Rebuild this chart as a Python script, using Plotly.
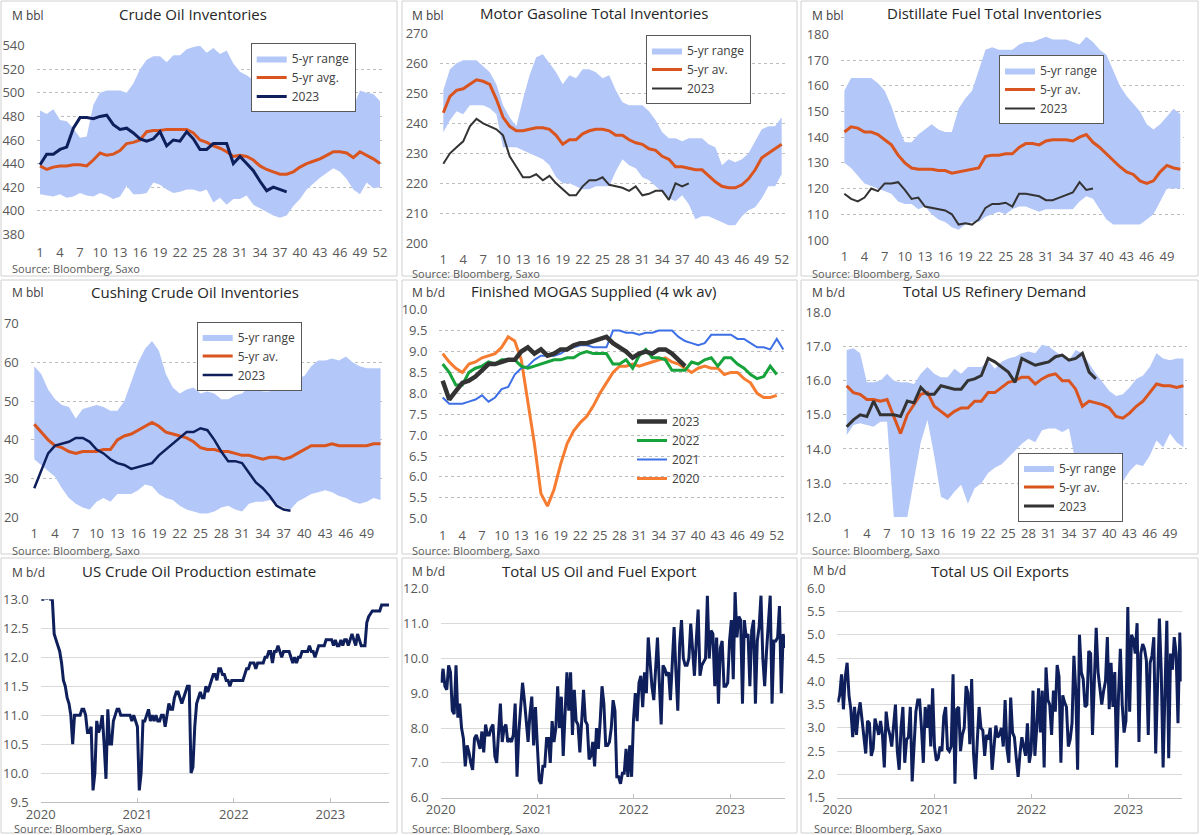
import plotly.graph_objects as go
import pandas as pd

W, H = 1200, 835

# ---------------- DATA ----------------
weeks52 = list(range(1, 53))
weeks51 = list(range(1, 52))
weeks53 = list(range(1, 54))
weeks_2023 = list(range(1, 39))

crude_upper = [485,482,486,477,476,470,462,463,490,500, 502,502,502,500,508,520,528,531,531,526,
               532,532,537,539,540,534,538,533,536,525, 518,515,511,506,502,497,495,494,493,492,
               490,489,489,493,485,488,489,488,502,500, 499,493]
crude_lower = [414,413,412,414,411,412,415,413,412,415, 413,410,412,421,414,414,415,424,422,418,
               415,416,418,418,416,418,407,411,405,410, 410,413,405,402,399,396,394,396,404,410,
               418,423,428,432,436,433,427,418,414,424, 419,420]
crude_avg = [438,435,437,438,438,439,439,438,443,449, 447,448,451,457,458,460,467,468,468,469,
             469,469,469,466,460,458,455,453,450,446, 447,446,443,438,435,433,431,431,433,437,
             440,442,444,447,450,450,449,445,450,447, 444,440]
crude_2023 = [439,448,448,452,454,470,479,479,478,480, 481,473,469,470,466,461,459,461,467,455,
              460,459,467,461,452,452,457,457,457,440, 446,440,434,425,417,420,418,416]

gas_upper = [251,258,260,261,261,261,259,257,253,246, 242,239,248,256,262,263,260,257,253,256,
             255,258,258,257,255,256,251,247,246,246, 246,244,241,237,235,235,234,235,235,235,
             233,232,226,228,227,228,230,234,238,239, 239,242]
gas_lower = [237,241,244,243,246,246,246,245,243,232, 232,232,231,230,229,228,226,222,220,220,
             219,218,218,219,219,219,224,228,226,225, 222,221,219,217,215,214,216,213,208,209,
             209,208,207,206,206,209,211,212,215,219, 219,223]
gas_avg = [243.5,249,251,251.5,253,254.5,254,253,248,242, 239,237.5,237.5,238,238.5,238.5,238,236,233,234.5,
           234.5,236.5,237.5,238,238,237.5,236,236,234.5,233.5, 233,231.5,231,229,228,225.5,225.5,225,224.5,224.5,
           222.5,220.5,219,218.5,218.5,219.5,221.5,224.5,228.5,230, 231.5,233]
gas_2023 = [226.5,230,232,234,239,241.5,240,239,238,236, 229,225.5,222,222,223,221,222.5,220,218,216,
            216,219,221,221,222,219.5,219,218.5,217.5,219, 216,216.5,217.5,217.5,214.5,220,219,220]

dist_upper = [158,163,163,163,163,161,158,152,144,138, 138,141,143,145,143,142,142,151,155,158,
              166,174,175,174,174,174,176,177,177,178, 179,178,178,178,177,176,179,177,174,172,
              166,160,156,153,150,145,143,145,148,151, 149]
dist_lower = [130,128,125,122,121,120,119,118,115,114, 114,112,113,110,108,107,105,104,106,107,
              107,109,110,111,110,112,113,113,112,111, 112,112,112,112,112,115,117,116,112,108,
              106,106,106,106,106,108,110,115,120,120, 120]
dist_avg = [142,144,143.5,142,142,141,139,137,133,130, 128,127.5,127.5,127.5,127,127,126,126.5,127,127.5,
            128,132.5,133,133,133.5,133.5,136,137.5,137.5,137, 138.5,139,139,139,138.5,140,141,138,136,133.5,
            131,128.5,126.5,125.5,123,122,123,126.5,129,128, 127.5]
dist_2023 = [118,116,115,116.5,120,119,122,122,122.5,119.5, 116,116.5,113,112.5,112,111.5,110,106,106.5,106,
             108,112.5,114,114,114.5,113,118,118,117.5,117, 115.5,115.5,116.5,117.5,118.5,122.5,119.5,120]

cush_upper = [59,57,53,50.5,49,48.5,45.5,48,48.5,49, 48.5,47.5,47.5,50,55,60,63.5,65.5,63,57,
              53.5,52,53,53.5,52,52.5,52,50.5,50.5,51.5, 52,53.5,53,52.5,52.5,54.5,54.5,54.5,56,56.5,
              59,60.5,60.5,61,60.5,61.5,60,59,58.5,58.5, 58.5]
cush_lower = [35,33.5,32,30.5,27.5,25,23.5,22.5,22,24, 25,24,26,26,26,27,28.5,28,26,25,
              24.5,23,22,21.5,21,21,21.5,22.5,23,22, 21.5,23.5,24,24,24.5,23.5,22.5,22,24,25,
              26,26.5,27,26.5,25.5,25,24,23.5,24,25, 24.5]
cush_avg = [44,42,40,38.5,38,37,36.5,37,37,37, 37.5,37.5,40,41,41.5,42.5,43.5,44.5,43.5,42,
            41.5,41,40.5,39.5,38,37.5,37.5,37,37,36.5, 36,36,35.5,35,35.5,35.5,35,35.5,36.5,37.5,
            38.5,38.5,38.5,39,38.5,38.5,38.5,38.5,38.5,39, 39]
cush_2023 = [27.5,32,36.5,38.5,39,39.5,40.5,40.5,39.5,37.5, 36.5,35,34,33.5,32.5,33,33.5,34,36,37.5,
             39,40.5,42,42,43,42.5,40,37,34.5,34.5, 34,31.5,29,27.5,25.5,23,22,21.7]

mogas_2023 = [8.3,7.85,8.05,8.25,8.3,8.4,8.55,8.7,8.7,8.75, 8.8,8.8,9.0,9.1,8.95,9.05,8.9,8.95,9.05,9.05,
              9.15,9.2,9.2,9.25,9.3,9.35,9.2,9.1,9.0,8.85, 8.95,9.0,8.95,9.05,9.05,8.95,8.8,8.65]
mogas_2022 = [8.7,8.5,8.2,8.2,8.5,8.6,8.65,8.75,8.7,8.8, 8.8,8.8,8.65,8.6,8.65,8.7,8.75,8.8,8.8,8.85,
              8.85,8.95,9.0,8.95,8.95,8.95,8.7,8.7,8.8,8.6, 8.9,9.05,8.85,8.85,8.8,8.55,8.55,8.55,8.75,8.7,
              8.8,8.85,8.65,8.85,8.85,8.7,8.6,8.45,8.35,8.4, 8.65,8.45]
mogas_2021 = [7.9,7.75,7.75,7.75,7.8,7.85,7.95,7.8,7.9,8.1, 8.15,8.45,8.6,8.65,8.8,8.9,8.9,8.9,8.95,9.05,
              9.1,9.15,9.15,9.1,9.1,9.1,9.5,9.5,9.45,9.45, 9.4,9.45,9.45,9.5,9.5,9.5,9.35,9.25,9.2,9.15,
              9.2,9.4,9.4,9.4,9.4,9.3,9.3,9.2,9.1,9.1, 9.05,9.3,9.05]
mogas_2020 = [8.95,8.75,8.6,8.5,8.7,8.75,8.85,8.9,8.95,9.1, 9.35,9.25,8.8,7.8,6.8,5.6,5.3,5.7,6.3,6.8,
              7.1,7.3,7.45,7.7,8.0,8.25,8.5,8.65,8.65,8.7, 8.65,8.7,8.75,8.8,8.85,8.75,8.7,8.6,8.5,8.6,
              8.65,8.6,8.6,8.45,8.5,8.5,8.35,8.25,8.0,7.9, 7.9,7.95]

ref_upper = [16.9,16.95,16.8,15.95,15.95,16.0,16.2,16.0,15.95,15.95, 15.9,16.2,16.4,16.2,16.1,16.1,16.35,16.2,16.4,16.4,
             16.4,16.6,16.35,16.55,16.65,16.7,16.8,16.85,16.8,17.05, 17.0,16.85,16.7,16.6,16.9,16.8,16.5,16.2,15.95,15.7,
             15.55,15.6,15.8,16.05,16.15,16.4,16.8,16.65,16.6,16.65, 16.65]
ref_lower = [14.4,14.7,14.75,14.7,14.65,14.8,14.8,12.0,12.0,12.0, 13.1,14.2,14.85,13.8,12.6,12.5,12.75,12.95,12.4,12.85,
             13.0,13.3,13.45,13.55,13.75,13.95,14.15,14.3,14.2,14.55, 14.6,14.6,14.5,14.6,13.6,13.8,13.8,13.8,13.75,13.8,
             13.9,13.05,13.35,13.55,13.5,13.8,14.25,14.05,14.45,14.2, 14.05]
ref_avg = [15.85,15.65,15.6,15.45,15.45,15.4,15.45,14.95,14.45,15.0, 15.3,15.6,15.65,15.25,15.1,14.95,15.1,15.2,15.2,15.4,
           15.4,15.65,15.65,15.8,15.95,16.0,16.1,16.1,15.9,16.05, 16.15,16.2,16.0,16.0,15.75,15.25,15.4,15.35,15.3,15.2,
           14.95,14.9,15.05,15.25,15.4,15.65,15.9,15.85,15.85,15.8, 15.85]
ref_2023 = [14.65,14.85,15.0,14.95,15.4,15.0,15.0,15.0,14.95,15.4, 15.35,15.8,15.6,15.6,15.85,15.8,15.75,15.75,16.0,16.05,
            16.15,16.65,16.55,16.4,16.25,15.95,16.65,16.55,16.45,16.5, 16.55,16.7,16.75,16.6,16.65,16.8,16.25,16.05]

prod_2020 = [13.0,13.0,13.1,13.0,13.1,13.0,13.0,12.4,12.3,12.2, 12.1,11.9,11.6,11.5,11.3,11.2,11.0,10.5,11.0,11.0,
             11.0,11.0,11.1,11.1,11.0,10.7,10.7,10.8,9.7,10.0, 10.9,10.7,10.8,11.0,10.5,9.9,11.1,10.5,10.5,10.9,
             11.0,11.1,11.1,11.0,11.0,11.0,11.0,11.0,11.0,10.9, 11.0,10.9]
prod_2021 = [10.8,9.7,10.0,10.9,10.9,11.0,11.1,10.9,11.0,10.9, 11.0,10.9,10.9,11.0,11.0,10.8,11.0,11.2,11.1,11.1,
             11.3,11.4,11.4,11.3,11.2,11.3,11.4,11.5,11.5,10.0, 10.1,10.8,11.2,11.3,11.4,11.3,11.3,11.5,11.4,11.5,
             11.6,11.7,11.7,11.6,11.8,11.8,11.7,11.7,11.6,11.6, 11.5,11.6]
prod_2022 = [11.6,11.6,11.6,11.6,11.6,11.6,11.7,11.8,11.8,11.9, 11.9,11.9,11.8,11.9,11.9,11.9,11.9,12.0,12.0,12.1,
             12.1,11.9,12.1,12.1,12.2,12.1,12.0,12.1,12.1,12.1, 12.1,12.0,11.9,12.0,11.9,12.0,12.0,12.1,12.1,12.1,
             12.1,12.2,12.1,12.1,12.0,12.1,12.2,12.2,12.2,12.2, 12.3,12.3]
prod_2023 = [12.3,12.3,12.2,12.3,12.2,12.2,12.3,12.2,12.3,12.3, 12.2,12.3,12.4,12.3,12.2,12.4,12.3,12.2,12.2,12.2,
             12.6,12.7,12.75,12.8,12.8,12.8,12.8,12.8,12.9,12.9, 12.9,12.9,12.9]

exp_2020 = [9.3,9.7,9.2,9.1,9.8,9.6,8.5,8.4,9.8,8.3, 8.7,8.0,7.7,6.9,7.5,7.3,7.0,6.8,7.7,7.8,
            7.6,7.4,7.9,7.3,8.1,7.8,7.8,8.0,8.1,7.2, 7.0,8.0,8.7,7.6,8.0,8.1,7.6,7.7,7.6,7.8,
            8.7,6.6,7.9,8.6,9.3,8.8,8.3,7.6,8.4,8.9, 7.5,8.6]
exp_2021 = [7.5,6.5,6.4,6.9,6.9,7.7,7.7,7.0,8.2,7.6, 8.0,9.2,8.0,8.9,7.2,8.6,9.6,8.5,9.6,7.8,
            9.1,8.2,8.1,7.3,8.3,9.1,8.2,8.1,7.1,7.2, 7.6,6.9,8.0,7.4,8.2,9.2,8.7,7.5,7.5,7.6,
            8.0,8.8,8.5,6.6,6.6,6.4,6.7,6.7,7.4,6.6, 7.5,6.6]
exp_2022 = [8.2,9.0,8.2,9.3,9.5,8.6,9.6,9.0,10.6,9.8, 9.2,8.8,9.6,10.6,9.3,8.1,9.8,9.7,9.5,9.6,
            8.8,9.7,10.9,9.6,8.5,10.4,11.1,10.0,9.8,9.8, 10.0,11.0,10.3,9.5,10.5,11.4,9.5,9.8,9.9,10.0,
            11.8,10.0,10.8,10.7,9.2,10.6,8.7,10.3,10.5,9.2, 9.2,9.3]
exp_2023 = [10.5,11.1,9.4,11.9,10.6,11.2,11.1,8.7,11.1,10.6, 10.7,9.2,10.8,11.1,8.7,10.5,10.9,11.8,10.0,9.2,
            10.2,11.0,11.8,8.7,10.5,10.5,10.6,11.5,9.0,10.7, 10.3]

oil_2020 = [3.55,3.7,4.15,3.4,4.1,4.4,3.7,3.4,2.8,3.45, 2.85,3.3,3.55,3.2,2.8,2.45,3.15,3.1,2.4,2.55,
            3.2,3.0,2.85,3.15,2.85,2.15,3.35,3.0,2.85,2.6, 3.0,3.5,2.5,2.1,3.0,3.45,2.25,2.75,2.8,3.45,
            1.85,2.7,3.35,3.6,3.6,3.0,2.25,3.45,3.0,3.5, 2.6,3.85]
oil_2021 = [2.6,2.3,2.35,2.6,2.5,3.25,3.45,2.55,2.5, 2.6,4.15,1.8,3.4,3.45,2.5,2.85,3.0,3.9,3.75,
            2.65,4.05,2.45,1.9,2.7,3.45,3.0,2.95, 2.4,2.85,2.75,3.0,2.1,2.65,3.05,2.8,2.85,3.0,
            2.6,3.6,2.55,2.25,3.65,2.9,2.8,2.35, 1.95,2.45,2.8,2.6,2.4,3.1,2.25]
oil_2022 = [2.5,3.8,2.4,3.0,3.85,2.9,3.8,2.15,4.3,3.6, 3.5,2.85,3.8,3.35,4.35,4.1,2.25,3.7,3.55,
            3.45,2.6,2.75,3.1,4.55,3.8,2.1,5.0,4.2,4.05, 3.45,3.5,4.65,4.6,2.85,4.0,5.15,4.2,3.8,
            3.5,3.8,4.0,4.95,3.4,4.4,3.45,4.2,2.15, 3.7,4.7,3.5,2.9,3.15]
oil_2023 = [5.6,3.35,5.0,4.9,4.6,5.25,2.7,4.6,4.8,4.7, 4.45,2.85,4.4,4.55,4.95,2.45,3.95,5.35,4.2,2.15,
            3.8,5.3,2.35,4.6,4.25,4.95,4.6,3.1,5.05,4.0]

prod_vals = prod_2020 + prod_2021 + prod_2022 + prod_2023
exp_vals = exp_2020 + exp_2021 + exp_2022 + exp_2023
oil_vals = oil_2020 + oil_2021 + oil_2022 + oil_2023
prod_dates = pd.date_range("2020-01-03", periods=len(prod_vals), freq="7D")
exp_dates = pd.date_range("2020-01-03", periods=len(exp_vals), freq="7D")
oil_dates = pd.date_range("2020-01-03", periods=len(oil_vals), freq="7D")

# ---------------- STYLE ----------------
BAND = "#b4c7f9"
ORANGE = "#d9541e"
NAVY = "#0e1f5b"
DARK = "#333333"
GREEN = "#17a33b"
BLUE = "#3d6fe6"
ORANGE2 = "#f57c30"
FONT = "Open Sans"
TICKC = "#595959"

def xdom(a, b):
    return [a / W, b / W]

def ydom(top, bottom):
    return [1 - bottom / H, 1 - top / H]

fig = go.Figure()

def ax(k):
    return ("x" if k == 1 else f"x{k}", "y" if k == 1 else f"y{k}")

def lg(k):
    return "legend" if k == 1 else f"legend{k}"

def add_band(k, x, lower, upper, avg, cur, avg_name, cur_color, cur_width):
    xa, ya = ax(k)
    fig.add_trace(go.Scatter(x=x, y=lower, mode="lines", line=dict(width=0, color=BAND),
                             showlegend=False, hoverinfo="skip", xaxis=xa, yaxis=ya, legend=lg(k)))
    fig.add_trace(go.Scatter(x=x, y=upper, mode="lines", line=dict(width=0, color=BAND),
                             fill="tonexty", fillcolor=BAND, name="5-yr range",
                             xaxis=xa, yaxis=ya, legend=lg(k)))
    fig.add_trace(go.Scatter(x=x, y=avg, mode="lines", line=dict(width=3, color=ORANGE),
                             name=avg_name, xaxis=xa, yaxis=ya, legend=lg(k)))
    fig.add_trace(go.Scatter(x=weeks_2023, y=cur, mode="lines", line=dict(width=cur_width, color=cur_color),
                             name="2023", xaxis=xa, yaxis=ya, legend=lg(k)))

add_band(1, weeks52, crude_lower, crude_upper, crude_avg, crude_2023, "5-yr avg.", NAVY, 3)
add_band(2, weeks52, gas_lower, gas_upper, gas_avg, gas_2023, "5-yr av.", DARK, 2)
add_band(3, weeks51, dist_lower, dist_upper, dist_avg, dist_2023, "5-yr av.", DARK, 2)
add_band(4, weeks51, cush_lower, cush_upper, cush_avg, cush_2023, "5-yr av.", NAVY, 2.5)

# Panel 5 MOGAS
for vals, name, color, width in [(mogas_2020, "2020", ORANGE2, 3), (mogas_2021, "2021", BLUE, 2),
                                 (mogas_2022, "2022", GREEN, 3), (mogas_2023, "2023", DARK, 4.5)]:
    fig.add_trace(go.Scatter(x=list(range(1, len(vals) + 1)), y=vals, mode="lines",
                             line=dict(width=width, color=color), name=name,
                             xaxis="x5", yaxis="y5", legend="legend5"))

add_band(6, weeks51, ref_lower, ref_upper, ref_avg, ref_2023, "5-yr av.", DARK, 3)

for k, d, v in [(7, prod_dates, prod_vals), (8, exp_dates, exp_vals), (9, oil_dates, oil_vals)]:
    xa, ya = ax(k)
    fig.add_trace(go.Scatter(x=d, y=v, mode="lines", line=dict(width=3, color=NAVY),
                             showlegend=False, xaxis=xa, yaxis=ya))

# ---------------- AXES ----------------
cat_panels = {
    1: dict(x=(36.7, 383.3), y=(45.7, 234.3), xr=[0.5, 52.5], xt=list(range(1, 53, 3)), yr=[380, 540], dt=20, fmt="d", so=9),
    2: dict(x=(440.0, 785.0), y=(33.3, 243.3), xr=[0.5, 52.5], xt=list(range(1, 53, 3)), yr=[200, 270], dt=10, fmt="d", so=7),
    3: dict(x=(841.0, 1183.7), y=(34.3, 240.0), xr=[0.5, 51.5], xt=list(range(1, 52, 3)), yr=[100, 180], dt=10, fmt="d", so=7),
    4: dict(x=(30.8, 384.0), y=(323.7, 517.3), xr=[0.5, 51.5], xt=list(range(1, 52, 3)), yr=[20, 70], dt=10, fmt="d", so=7),
    5: dict(x=(439.4, 786.6), y=(309.7, 518.7), xr=[0.5, 53.5], xt=list(range(1, 54, 3)), yr=[5, 10], dt=0.5, fmt=".1f", so=7),
    6: dict(x=(843.3, 1186.8), y=(312.3, 517.3), xr=[0.5, 51.5], xt=list(range(1, 52, 3)), yr=[12, 18], dt=1, fmt=".1f", so=7),
}
layout = {}
for k, p in cat_panels.items():
    xa, ya = ax(k)
    xname = "xaxis" if k == 1 else f"xaxis{k}"
    yname = "yaxis" if k == 1 else f"yaxis{k}"
    layout[xname] = dict(domain=xdom(*p["x"]), range=p["xr"], anchor=ya, tickmode="array",
                         tickvals=p["xt"], showgrid=False, zeroline=False, showline=False,
                         ticks="", ticklabelstandoff=p["so"], automargin=False,
                         tickfont=dict(family=FONT, size=13, color=TICKC))
    layout[yname] = dict(domain=ydom(*p["y"]), range=p["yr"], anchor=xa, dtick=p["dt"],
                         tick0=p["yr"][0], tickformat=p["fmt"], showgrid=True, gridcolor="#bdbdbd",
                         griddash="dot", gridwidth=1, zeroline=False, showline=False, ticks="",
                         ticklabelstandoff=11, automargin=False,
                         tickfont=dict(family=FONT, size=13, color=TICKC))

date_panels = {
    7: dict(x=(40.7, 389.0), y=(599.3, 802.0), d=prod_dates, yr=[9.5, 13.0], dt=0.5),
    8: dict(x=(440.7, 785.0), y=(588.7, 797.7), d=exp_dates, yr=[6.0, 12.0], dt=1.0),
    9: dict(x=(837.3, 1181.7), y=(588.3, 797.7), d=oil_dates, yr=[1.5, 6.0], dt=0.5),
}
for k, p in date_panels.items():
    xa, ya = ax(k)
    layout[f"xaxis{k}"] = dict(domain=xdom(*p["x"]), type="date",
                               range=["2020-01-01", p["d"][-1].strftime("%Y-%m-%d")],
                               anchor=ya, tickformat="%Y", dtick="M12", tick0="2020-01-01",
                               showgrid=False, zeroline=False, showline=True, linecolor="#bfbfbf",
                               ticks="inside", ticklen=4, tickcolor="#bfbfbf", automargin=False,
                               tickfont=dict(family=FONT, size=13, color=TICKC))
    layout[f"yaxis{k}"] = dict(domain=ydom(*p["y"]), range=p["yr"], anchor=xa, dtick=p["dt"],
                               tick0=p["yr"][0], tickformat=".1f", showgrid=True,
                               gridcolor="#d9d9d9", gridwidth=1, zeroline=False, showline=False,
                               ticks="", ticklabelstandoff=11, automargin=False,
                               tickfont=dict(family=FONT, size=13, color=TICKC))

# ---------------- LEGENDS ----------------
def legend_box(xpx, ypx, border=True):
    return dict(x=xpx / W, y=1 - ypx / H, xanchor="left", yanchor="top",
                bgcolor="white" if border else "rgba(0,0,0,0)",
                bordercolor="#595959" if border else "rgba(0,0,0,0)", borderwidth=1 if border else 0,
                font=dict(family=FONT, size=12, color="#404040"), itemwidth=30,
                tracegroupgap=0, traceorder="normal")

layout["legend"] = legend_box(250.7, 43.0)
layout["legend2"] = legend_box(646.0, 35.0)
layout["legend3"] = legend_box(999.0, 55.0)
layout["legend4"] = legend_box(196.7, 321.5)
leg5 = legend_box(632.0, 407.0, border=False)
leg5["traceorder"] = "reversed"
layout["legend5"] = leg5
layout["legend6"] = legend_box(1018.0, 452.5)

# ---------------- TEXT ----------------
titles = [
    ("Crude Oil Inventories", 193, 14), ("Motor Gasoline Total Inventories", 594, 13),
    ("Distillate Fuel Total Inventories", 994, 13), ("Cushing Crude Oil Inventories", 195, 292),
    ("Finished MOGAS Supplied (4 wk av)", 593, 291), ("Total US Refinery Demand", 994, 291),
    ("US Crude Oil Production estimate", 199, 571), ("Total US Oil and Fuel Export", 599, 571),
    ("Total US Oil Exports", 1000, 571),
]
units = [("M bbl", 11, 16), ("M bbl", 411, 15), ("M bbl", 811, 15),
         ("M bbl", 11, 292), ("M b/d", 411, 293), ("M b/d", 811, 293),
         ("M b/d", 11, 572), ("M b/d", 411, 571), ("M b/d", 812, 570)]
sources = [(11, 268), (411, 273.5), (811, 273.5), (11, 550.5), (411, 550.5), (811, 550.5),
           (13, 828), (411, 828), (813, 828)]

ann = []
for t, xp, yp in titles:
    ann.append(dict(text=t, x=xp / W, y=1 - yp / H, xref="paper", yref="paper", showarrow=False,
                    xanchor="center", yanchor="middle", font=dict(family=FONT, size=15, color="#262626")))
for t, xp, yp in units:
    ann.append(dict(text=t, x=xp / W, y=1 - yp / H, xref="paper", yref="paper", showarrow=False,
                    xanchor="left", yanchor="middle", borderpad=0,
                    font=dict(family=FONT, size=12, color="#404040")))
for xp, yp in sources:
    ann.append(dict(text="Source: Bloomberg, Saxo", x=xp / W, y=1 - yp / H, xref="paper", yref="paper",
                    showarrow=False, xanchor="left", yanchor="middle", borderpad=0,
                    font=dict(family=FONT, size=11, color="#595959")))

shapes = []
boxes = [(1, 1, 397, 276), (402, 1, 797, 276), (801, 1, 1198, 276),
         (1, 280, 397, 554), (402, 280, 797, 554), (801, 280, 1198, 554),
         (1, 558, 397, 833), (402, 558, 797, 833), (801, 558, 1198, 833)]
for x0, y0, x1, y1 in boxes:
    shapes.append(dict(type="rect", xref="paper", yref="paper", x0=x0 / W, x1=x1 / W,
                       y0=1 - y1 / H, y1=1 - y0 / H, line=dict(color="#d0d0d0", width=1),
                       fillcolor="rgba(0,0,0,0)", layer="below"))

fig.update_layout(width=W, height=H, margin=dict(l=0, r=0, t=0, b=0, autoexpand=False),
                  paper_bgcolor="white", plot_bgcolor="white", showlegend=True,
                  annotations=ann, shapes=shapes, **layout)

fig.write_html("out.html", config={"displayModeBar": False},
               post_script="document.documentElement.style.margin='0';document.body.style.margin='0';"
                           "document.body.style.overflow='hidden';")
